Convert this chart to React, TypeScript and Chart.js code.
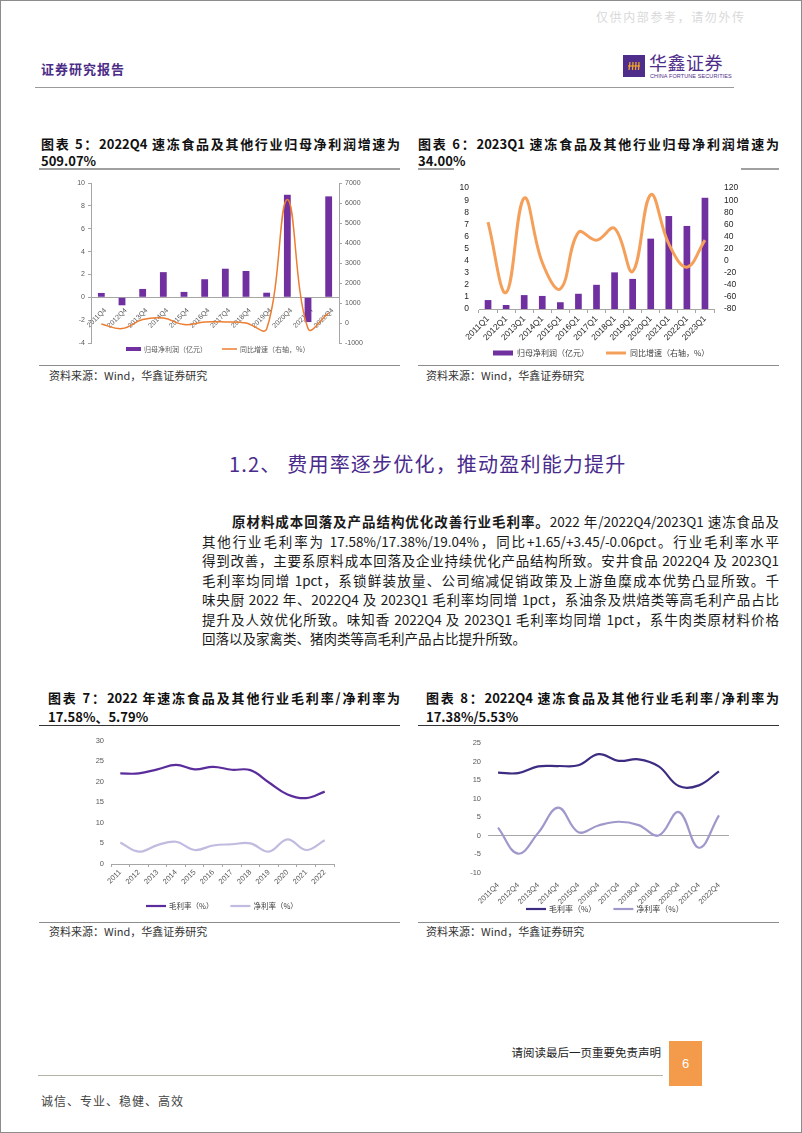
import React, { useEffect, useRef } from 'react';
import { Chart, registerables } from 'chart.js';

Chart.register(...registerables);

// ---------------- DATA ----------------
const c5Labels = ['2011Q4', '2012Q4', '2013Q4', '2014Q4', '2015Q4', '2016Q4', '2017Q4', '2018Q4', '2019Q4', '2020Q4', '2021Q4', '2022Q4'];
const c5Profit = [0.38, -0.7, 0.73, 2.2, 0.47, 1.58, 2.5, 2.3, 0.4, 8.97, -2.17, 8.83];
const c5Growth = [-50, -280, 170, 250, -80, 50, 50, 0, -300, 6170, -280, 509.07];

const c6Labels = ['2011Q1', '2012Q1', '2013Q1', '2014Q1', '2015Q1', '2016Q1', '2017Q1', '2018Q1', '2019Q1', '2020Q1', '2021Q1', '2022Q1', '2023Q1'];
const c6Profit = [0.74, 0.33, 1.15, 1.08, 0.56, 1.26, 2.0, 3.03, 2.49, 5.82, 7.69, 6.87, 9.2];
const c6Growth = [63.6, -52.8, 103.6, -3, -46.7, 46.7, 33.8, 53.3, -18, 109, 27.7, -10.8, 34.0];

const c7Labels = ['2011', '2012', '2013', '2014', '2015', '2016', '2017', '2018', '2019', '2020', '2021', '2022'];
const c7Gross = [22.0, 22.0, 23.0, 24.1, 23.0, 23.6, 22.9, 22.8, 19.8, 16.9, 16.0, 17.58];
const c7Net = [5.2, 3.0, 4.6, 5.4, 3.4, 4.5, 4.8, 5.0, 3.0, 6.0, 3.4, 5.79];

const c8Labels = ['2011Q4', '2012Q4', '2013Q4', '2014Q4', '2015Q4', '2016Q4', '2017Q4', '2018Q4', '2019Q4', '2020Q4', '2021Q4', '2022Q4'];
const c8Gross = [17.0, 16.9, 18.7, 18.8, 19.0, 22.0, 20.2, 20.6, 18.7, 13.4, 13.6, 17.38];
const c8Net = [2.2, -4.8, 0.8, 7.6, 1.0, 2.8, 3.8, 2.9, 0.1, 6.4, -3.2, 5.53];

const profitLabel = '归母净利润（亿元）';
const growthLabel = '同比增速（右轴，%）';
const grossLabel = '毛利率（%）';
const netLabel = '净利率（%）';

// ---------------- STYLE ----------------
const NUM = "'Liberation Sans', Arial, sans-serif";
const CJK = "'Noto Sans CJK SC', 'Noto Sans', sans-serif";
const AXIS = '#a6a6a6';

const fixWidth = (w: number) => (s: any) => { s.width = w; };
const fixHeight = (h: number) => (s: any) => { s.height = h; };
const plain = (v: any) => String(v);

const customLegend = {
  id: 'customLegend',
  afterDraw(chart: any, _args: any, o: any) {
    if (!o || o.x === undefined) return;
    const ctx = chart.ctx;
    ctx.save();
    ctx.font = `${o.size}px ${CJK}`;
    ctx.textBaseline = 'middle';
    ctx.textAlign = 'left';
    let x = o.x;
    const y = o.y;
    chart.data.datasets.forEach((ds: any) => {
      const isBar = ds.type === 'bar';
      if (isBar) {
        ctx.fillStyle = ds.backgroundColor;
        ctx.fillRect(x, y - o.boxH / 2, o.boxW, o.boxH);
      } else {
        ctx.strokeStyle = ds.borderColor;
        ctx.lineWidth = ds.borderWidth;
        ctx.beginPath();
        ctx.moveTo(x, y);
        ctx.lineTo(x + o.boxW, y);
        ctx.stroke();
      }
      x += o.boxW + o.textGap;
      ctx.fillStyle = o.color;
      ctx.fillText(ds.label, x, y);
      x += ctx.measureText(ds.label).width + o.itemGap;
    });
    ctx.restore();
  },
};

const tickFont = (size: number) => ({ size, family: NUM });

function config5(): any {
  return {
    type: 'bar',
    data: {
      labels: c5Labels,
      datasets: [
        { type: 'bar', label: profitLabel, data: c5Profit, yAxisID: 'y', backgroundColor: '#7030A0', barPercentage: 0.33, categoryPercentage: 1, order: 1 },
        { type: 'line', label: growthLabel, data: c5Growth, yAxisID: 'y1', borderColor: '#ED7D31', borderWidth: 1.5, pointRadius: 0, tension: 0.4, fill: false, order: 0 },
      ],
    },
    options: {
      responsive: false,
      animation: false,
      layout: { padding: { top: 10, bottom: 18, left: 0, right: 0 } },
      plugins: {
        legend: { display: false },
        tooltip: { enabled: false },
        customLegend: { x: 85, y: 176, size: 7, boxW: 15, boxH: 4, textGap: 3, itemGap: 15, color: '#595959' },
      },
      scales: {
        x: {
          position: { y: 0 },
          grid: { display: false },
          border: { display: true, color: AXIS },
          ticks: { font: tickFont(7), color: '#595959', minRotation: 45, maxRotation: 45, autoSkip: false, padding: 1, labelOffset: 4 },
        },
        y: {
          position: 'left', min: -4, max: 10,
          ticks: { stepSize: 2, font: tickFont(7), color: '#595959', padding: 3, autoSkip: false, callback: plain },
          grid: { drawOnChartArea: false, tickLength: 3, color: AXIS },
          border: { color: AXIS },
          afterFit: fixWidth(50),
        },
        y1: {
          position: 'right', min: -1000, max: 7000,
          ticks: { stepSize: 1000, font: tickFont(7), color: '#595959', padding: 3, autoSkip: false, callback: plain },
          grid: { drawOnChartArea: false, tickLength: 3, color: AXIS },
          border: { color: AXIS },
          afterFit: fixWidth(24),
        },
      },
    },
    plugins: [customLegend],
  };
}

function config6(): any {
  return {
    type: 'bar',
    data: {
      labels: c6Labels,
      datasets: [
        { type: 'bar', label: profitLabel, data: c6Profit, yAxisID: 'y', backgroundColor: '#7030A0', barPercentage: 0.37, categoryPercentage: 1, order: 1 },
        { type: 'line', label: growthLabel, data: c6Growth, yAxisID: 'y1', borderColor: '#F5A05A', borderWidth: 3, pointRadius: 0, tension: 0.4, fill: false, order: 0 },
      ],
    },
    options: {
      responsive: false,
      animation: false,
      layout: { padding: { top: 6, bottom: 0, left: 0, right: 0 } },
      plugins: {
        legend: { display: false },
        tooltip: { enabled: false },
        customLegend: { x: 77, y: 180, size: 8, boxW: 20, boxH: 5, textGap: 4, itemGap: 17, color: '#404040' },
      },
      scales: {
        x: {
          grid: { drawOnChartArea: false, tickLength: 4, color: AXIS, offset: true },
          border: { display: true, color: AXIS },
          ticks: { font: tickFont(8.5), color: '#262626', minRotation: 45, maxRotation: 45, autoSkip: false, padding: 1 },
          afterFit: fixHeight(54),
        },
        y: {
          position: 'left', min: 0, max: 10,
          ticks: { stepSize: 1, font: tickFont(8.5), color: '#262626', padding: 10, autoSkip: false, callback: plain },
          grid: { display: false, drawTicks: false },
          border: { display: false },
          afterFit: fixWidth(63),
        },
        y1: {
          position: 'right', min: -80, max: 120,
          ticks: { stepSize: 20, font: tickFont(8.5), color: '#262626', padding: 10, autoSkip: false, callback: plain },
          grid: { display: false, drawTicks: false },
          border: { display: false },
          afterFit: fixWidth(72),
        },
      },
    },
    plugins: [customLegend],
  };
}

function config7(): any {
  return {
    type: 'line',
    data: {
      labels: c7Labels,
      datasets: [
        { type: 'line', label: grossLabel, data: c7Gross, borderColor: '#5B2C9C', borderWidth: 2.2, pointRadius: 0, tension: 0.4, fill: false },
        { type: 'line', label: netLabel, data: c7Net, borderColor: '#C2BBE0', borderWidth: 2.2, pointRadius: 0, tension: 0.4, fill: false },
      ],
    },
    options: {
      responsive: false,
      animation: false,
      layout: { padding: { top: 10, bottom: 0, left: 0, right: 27 } },
      plugins: {
        legend: { display: false },
        tooltip: { enabled: false },
        customLegend: { x: 105, y: 177, size: 7.5, boxW: 20, boxH: 4, textGap: 3, itemGap: 17, color: '#404040' },
      },
      scales: {
        x: {
          offset: true,
          grid: { drawOnChartArea: false, tickLength: 3, color: AXIS, offset: true },
          border: { display: true, color: AXIS },
          ticks: { font: tickFont(7.5), color: '#595959', minRotation: 45, maxRotation: 45, autoSkip: false, padding: 1 },
          afterFit: fixHeight(55),
        },
        y: {
          min: 0, max: 30,
          ticks: { stepSize: 5, font: tickFont(7.5), color: '#595959', padding: 7, autoSkip: false, callback: plain },
          grid: { display: false, drawTicks: false },
          border: { display: false },
          afterFit: fixWidth(70),
        },
      },
    },
    plugins: [customLegend],
  };
}

function config8(): any {
  return {
    type: 'line',
    data: {
      labels: c8Labels,
      datasets: [
        { type: 'line', label: grossLabel, data: c8Gross, borderColor: '#3D2C82', borderWidth: 2.2, pointRadius: 0, tension: 0.4, fill: false },
        { type: 'line', label: netLabel, data: c8Net, borderColor: '#9F99CB', borderWidth: 2.2, pointRadius: 0, tension: 0.4, fill: false },
      ],
    },
    options: {
      responsive: false,
      animation: false,
      layout: { padding: { top: 14, bottom: 0, left: 0, right: 57 } },
      plugins: {
        legend: { display: false },
        tooltip: { enabled: false },
        customLegend: { x: 110, y: 180, size: 8, boxW: 20, boxH: 4, textGap: 3, itemGap: 17, color: '#404040' },
      },
      scales: {
        x: {
          offset: true,
          grid: { display: false, drawTicks: false },
          border: { display: false },
          ticks: { font: tickFont(7.5), color: '#595959', minRotation: 45, maxRotation: 45, autoSkip: false, padding: 8 },
          afterFit: fixHeight(46),
        },
        y: {
          min: -10, max: 25,
          ticks: { stepSize: 5, font: tickFont(7.5), color: '#595959', padding: 7, autoSkip: false, callback: plain },
          grid: {
            drawTicks: false,
            color: (c: any) => (c.tick && c.tick.value === 0 ? AXIS : 'rgba(0,0,0,0)'),
          },
          border: { display: false },
          afterFit: fixWidth(72),
        },
      },
    },
    plugins: [customLegend],
  };
}

// ---------------- COMPONENTS ----------------
function ChartBox({ left, top, width, height, make }: any) {
  const ref = useRef<HTMLCanvasElement>(null);
  useEffect(() => {
    const chart = new Chart(ref.current as HTMLCanvasElement, make());
    return () => chart.destroy();
  }, []);
  return (
    <div style={{ position: 'absolute', left, top, width, height }}>
      <canvas ref={ref} width={width} height={height} style={{ width, height, display: 'block' }} />
    </div>
  );
}

function Txt({ x, y, size, children, style }: any) {
  const lh = Math.round(size * 1.35);
  return (
    <div style={{ position: 'absolute', left: x, top: y - lh / 2, fontSize: size, lineHeight: `${lh}px`, whiteSpace: 'nowrap', ...style }}>
      {children}
    </div>
  );
}

function JLine({ x, y, w, size, children, style, last }: any) {
  const lh = Math.round(size * 1.35);
  return (
    <div style={{ position: 'absolute', left: x, top: y - lh / 2, width: w, fontSize: size, lineHeight: `${lh}px`, textAlign: 'justify', textAlignLast: last ? 'left' : 'justify', ...style }}>
      {children}
    </div>
  );
}

function HLine({ x1, x2, y, color, h }: any) {
  return <div style={{ position: 'absolute', left: x1, top: y, width: x2 - x1, height: h || 1, background: color }} />;
}

const titleStyle = { fontWeight: 700, color: '#111' };
const sourceStyle = { color: '#333' };

export default function App() {
  const paraX = 201;
  const paraW = 577;
  const lineY = [520, 539.5, 559, 578.5, 598, 617.5, 637];
  const pStyle = { color: '#1a1a1a' };
  return (
    <div style={{ position: 'absolute', left: 0, top: 0, width: 802, height: 1133, boxSizing: 'border-box', border: '1px solid #8c8c8c', background: '#fff', overflow: 'hidden', fontFamily: CJK }}>
      {/* header */}
      <Txt x={595} y={16} size={12} style={{ color: '#d9d9d9', letterSpacing: 1.6 }}>仅供内部参考，请勿外传</Txt>
      <Txt x={40} y={68} size={13} style={{ color: '#4B2C87', fontWeight: 700, letterSpacing: 1 }}>证券研究报告</Txt>
      <div style={{ position: 'absolute', left: 622, top: 54, width: 22, height: 22, background: '#4F2D8A' }}>
        <svg width={22} height={22} style={{ display: 'block' }}>
          <g stroke="#F5A623" strokeWidth={1.2} fill="none">
            <line x1={5} y1={11} x2={17} y2={11} />
            <line x1={7} y1={7} x2={6} y2={15} />
            <line x1={10} y1={7} x2={9.5} y2={15} />
            <line x1={13} y1={7} x2={12.5} y2={15} />
            <line x1={16} y1={7} x2={15.5} y2={15} />
          </g>
        </svg>
      </div>
      <Txt x={648} y={61} size={18} style={{ color: '#4F2D8A', letterSpacing: 0.5 }}>华鑫证券</Txt>
      <Txt x={649} y={75} size={5.5} style={{ color: '#4F2D8A', fontFamily: NUM, letterSpacing: 0.1 }}>CHINA FORTUNE SECURITIES</Txt>
      <HLine x1={34} x2={733} y={86} color="#9a9a9a" />

      {/* chart 5 / 6 titles */}
      <JLine x={40} y={143} w={359} size={13} style={titleStyle}>图表 5：2022Q4 速冻食品及其他行业归母净利润增速为</JLine>
      <Txt x={40} y={160} size={13} style={titleStyle}>509.07%</Txt>
      <HLine x1={38} x2={399} y={167} color="#a0a0a0" h={2} />
      <JLine x={417} y={143} w={361} size={13} style={titleStyle}>图表 6：2023Q1 速冻食品及其他行业归母净利润增速为</JLine>
      <Txt x={417} y={160} size={13} style={titleStyle}>34.00%</Txt>
      <HLine x1={417} x2={453} y={167} color="#a0a0a0" h={2} />
      <HLine x1={740} x2={778} y={167} color="#a0a0a0" h={2} />

      <ChartBox left={40} top={172} width={322} height={188} make={config5} />
      <ChartBox left={415} top={172} width={370} height={190} make={config6} />

      <HLine x1={38} x2={399} y={364} color="#8c8c8c" />
      <HLine x1={417} x2={778} y={364} color="#8c8c8c" />
      <Txt x={48} y={374} size={11} style={sourceStyle}>资料来源：Wind，华鑫证券研究</Txt>
      <Txt x={425} y={374} size={11} style={sourceStyle}>资料来源：Wind，华鑫证券研究</Txt>

      {/* section heading */}
      <Txt x={228} y={462} size={20} style={{ color: '#4A2B8C', letterSpacing: 1.2 }}>1.2、 费用率逐步优化，推动盈利能力提升</Txt>

      {/* paragraph */}
      <JLine x={paraX + 30} y={lineY[0]} w={paraW - 30} size={13.5} style={pStyle}><b>原材料成本回落及产品结构优化改善行业毛利率。</b>2022 年/2022Q4/2023Q1 速冻食品及</JLine>
      <JLine x={paraX} y={lineY[1]} w={paraW} size={13.5} style={pStyle}>其他行业毛利率为 17.58%/17.38%/19.04%，同比+1.65/+3.45/-0.06pct。行业毛利率水平</JLine>
      <JLine x={paraX} y={lineY[2]} w={paraW} size={13.5} style={pStyle}>得到改善，主要系原料成本回落及企业持续优化产品结构所致。安井食品 2022Q4 及 2023Q1</JLine>
      <JLine x={paraX} y={lineY[3]} w={paraW} size={13.5} style={pStyle}>毛利率均同增 1pct，系锁鲜装放量、公司缩减促销政策及上游鱼糜成本优势凸显所致。千</JLine>
      <JLine x={paraX} y={lineY[4]} w={paraW} size={13.5} style={pStyle}>味央厨 2022 年、2022Q4 及 2023Q1 毛利率均同增 1pct，系油条及烘焙类等高毛利产品占比</JLine>
      <JLine x={paraX} y={lineY[5]} w={paraW} size={13.5} style={pStyle}>提升及人效优化所致。味知香 2022Q4 及 2023Q1 毛利率均同增 1pct，系牛肉类原材料价格</JLine>
      <JLine x={paraX} y={lineY[6]} w={paraW} size={13.5} style={pStyle} last>回落以及家禽类、猪肉类等高毛利产品占比提升所致。</JLine>

      {/* chart 7 / 8 titles */}
      <JLine x={47} y={697} w={352} size={13} style={titleStyle}>图表 7：2022 年速冻食品及其他行业毛利率/净利率为</JLine>
      <Txt x={47} y={716} size={13} style={titleStyle}>17.58%、5.79%</Txt>
      <HLine x1={38} x2={399} y={724} color="#333" />
      <JLine x={425} y={697} w={353} size={13} style={titleStyle}>图表 8：2022Q4 速冻食品及其他行业毛利率/净利率为</JLine>
      <Txt x={425} y={716} size={13} style={titleStyle}>17.38%/5.53%</Txt>
      <HLine x1={417} x2={778} y={724} color="#333" />

      <ChartBox left={40} top={728} width={320} height={190} make={config7} />
      <ChartBox left={415} top={728} width={370} height={190} make={config8} />

      <HLine x1={38} x2={399} y={921} color="#8c8c8c" />
      <HLine x1={417} x2={778} y={921} color="#8c8c8c" />
      <Txt x={48} y={930} size={11} style={sourceStyle}>资料来源：Wind，华鑫证券研究</Txt>
      <Txt x={425} y={930} size={11} style={sourceStyle}>资料来源：Wind，华鑫证券研究</Txt>

      {/* footer */}
      <div style={{ position: 'absolute', left: 504, top: 1043, width: 156, fontSize: 11.5, lineHeight: '16px', textAlign: 'right', color: '#222', whiteSpace: 'nowrap' }}>请阅读最后一页重要免责声明</div>
      <div style={{ position: 'absolute', left: 668, top: 1040, width: 33, height: 45, background: '#F39A4B', color: '#fff', fontSize: 13, lineHeight: '45px', textAlign: 'center', fontFamily: NUM }}>6</div>
      <HLine x1={37} x2={662} y={1074} color="#b5b5a8" />
      <Txt x={40} y={1100} size={12} style={{ color: '#444', letterSpacing: 1 }}>诚信、专业、稳健、高效</Txt>
    </div>
  );
}
